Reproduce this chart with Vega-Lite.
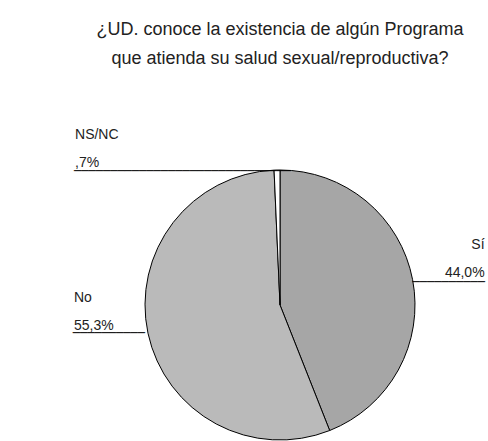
{
  "$schema": "https://vega.github.io/schema/vega-lite/v6.json",
  "width": 270,
  "height": 270,
  "autosize": "none",
  "padding": {"left": 145, "top": 170, "right": 73, "bottom": 1},
  "background": "white",
  "config": {"view": {"stroke": null}},
  "title": {
    "text": "¿UD. conoce la existencia de algún Programa",
    "subtitle": "que atienda su salud sexual/reproductiva?",
    "font": "Liberation Sans",
    "fontSize": 18,
    "fontWeight": "normal",
    "color": "#222222",
    "subtitleFont": "Liberation Sans",
    "subtitleFontSize": 18,
    "subtitleFontWeight": "normal",
    "subtitleColor": "#222222",
    "subtitlePadding": 11,
    "anchor": "middle",
    "offset": 60
  },
  "data": {
    "values": [
      {"categoria": "Sí", "valor": 44.0, "rotulo": "44,0%", "orden": 1},
      {"categoria": "No", "valor": 55.3, "rotulo": "55,3%", "orden": 2},
      {"categoria": "NS/NC", "valor": 0.7, "rotulo": ",7%", "orden": 3}
    ]
  },
  "encoding": {
    "theta": {"field": "valor", "type": "quantitative", "stack": true},
    "order": {"field": "orden", "type": "quantitative"}
  },
  "layer": [
    {
      "mark": {"type": "arc", "outerRadius": 135, "stroke": "#000000", "strokeWidth": 1},
      "encoding": {
        "color": {"field": "categoria", "type": "nominal", "scale": {"domain": ["Sí", "No", "NS/NC"], "range": ["#a6a6a6", "#bababa", "#ffffff"]}, "legend": null}
      }
    },
    {
      "mark": {"type": "text", "radius": 135, "align": "right", "dx": 72, "dy": -35, "font": "Liberation Sans", "fontSize": 14, "color": "#222222"},
      "encoding": {"detail": {"field": "categoria"}, "text": {"field": "categoria", "type": "nominal", "condition": {"test": "datum.categoria !== 'Sí'", "value": ""}}}
    },
    {
      "mark": {"type": "text", "radius": 135, "align": "right", "dx": 72, "dy": -7, "font": "Liberation Sans", "fontSize": 14, "color": "#222222"},
      "encoding": {"detail": {"field": "categoria"}, "text": {"field": "rotulo", "type": "nominal", "condition": {"test": "datum.categoria !== 'Sí'", "value": ""}}}
    },
    {
      "mark": {"type": "text", "radius": 135, "align": "left", "dx": 0, "dy": 2, "baseline": "middle", "font": "DejaVu Sans", "fontSize": 12, "color": "#000000"},
      "encoding": {"detail": {"field": "categoria"}, "text": {"condition": {"test": "datum.categoria === 'Sí'", "value": "──────────"}, "value": ""}}
    },
    {
      "mark": {"type": "text", "radius": 135, "align": "left", "dx": -74, "dy": -35, "font": "Liberation Sans", "fontSize": 14, "color": "#222222"},
      "encoding": {"detail": {"field": "categoria"}, "text": {"field": "categoria", "type": "nominal", "condition": {"test": "datum.categoria !== 'No'", "value": ""}}}
    },
    {
      "mark": {"type": "text", "radius": 135, "align": "left", "dx": -74, "dy": -7, "font": "Liberation Sans", "fontSize": 14, "color": "#222222"},
      "encoding": {"detail": {"field": "categoria"}, "text": {"field": "rotulo", "type": "nominal", "condition": {"test": "datum.categoria !== 'No'", "value": ""}}}
    },
    {
      "mark": {"type": "text", "radius": 135, "align": "right", "dx": -3, "dy": 0, "baseline": "middle", "font": "DejaVu Sans", "fontSize": 12, "color": "#000000"},
      "encoding": {"detail": {"field": "categoria"}, "text": {"condition": {"test": "datum.categoria === 'No'", "value": "──────────"}, "value": ""}}
    },
    {
      "mark": {"type": "text", "radius": 135, "align": "left", "dx": -202, "dy": -35, "font": "Liberation Sans", "fontSize": 14, "color": "#222222"},
      "encoding": {"detail": {"field": "categoria"}, "text": {"field": "categoria", "type": "nominal", "condition": {"test": "datum.categoria !== 'NS/NC'", "value": ""}}}
    },
    {
      "mark": {"type": "text", "radius": 135, "align": "left", "dx": -202, "dy": -7, "font": "Liberation Sans", "fontSize": 14, "color": "#222222"},
      "encoding": {"detail": {"field": "categoria"}, "text": {"field": "rotulo", "type": "nominal", "condition": {"test": "datum.categoria !== 'NS/NC'", "value": ""}}}
    },
    {
      "mark": {"type": "text", "radius": 135, "align": "left", "dx": -203, "dy": 1, "baseline": "middle", "font": "DejaVu Sans", "fontSize": 12, "color": "#000000"},
      "encoding": {"detail": {"field": "categoria"}, "text": {"condition": {"test": "datum.categoria === 'NS/NC'", "value": "──────────────────────────────"}, "value": ""}}
    }
  ]
}
